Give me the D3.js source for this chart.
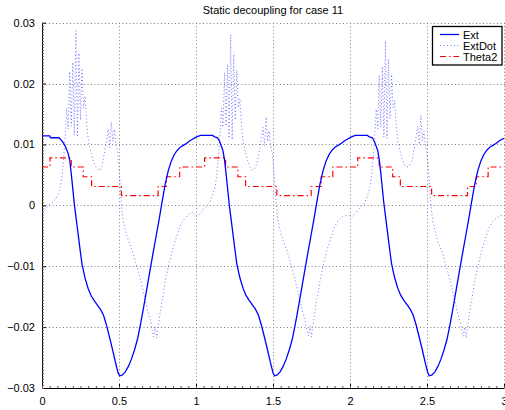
<!DOCTYPE html>
<html><head><meta charset="utf-8">
<script src="https://cdn.jsdelivr.net/npm/d3@7"></script>
<style>
html,body{margin:0;padding:0;background:#fff;}
svg{display:block;font-family:"Liberation Sans",Arial,Helvetica,sans-serif;}
</style></head>
<body><svg id="c" width="505" height="410"></svg>
<script>
const title = "Static decoupling for case 11";
const seriesNames = ["Ext", "ExtDot", "Theta2"];
const xTicks = [0, 0.5, 1, 1.5, 2, 2.5, 3];
const xTickLabels = ["0", "0.5", "1", "1.5", "2", "2.5", "3"];
const yTicks = [-0.03, -0.02, -0.01, 0, 0.01, 0.02, 0.03];
const yTickLabels = ["\u22120.03", "\u22120.02", "\u22120.01", "0", "0.01", "0.02", "0.03"];

// Ext (t, value)
const ext = [
[0,0.0114],[0.05,0.0114],[0.055,0.0111],[0.11,0.0111],[0.13,0.0106],[0.15,0.0098],[0.17,0.0085],[0.18,0.0074],[0.19,0.0052],[0.20,0.0027],[0.21,0.0002],[0.22,-0.0018],[0.23,-0.0038],[0.24,-0.0058],[0.25,-0.0078],[0.26,-0.0097],[0.28,-0.0120],[0.30,-0.0137],[0.32,-0.0149],[0.34,-0.0157],[0.36,-0.0164],[0.38,-0.0171],[0.40,-0.0181],[0.42,-0.0198],[0.44,-0.0218],[0.46,-0.0239],[0.48,-0.0261],[0.495,-0.0276],[0.505,-0.0280],[0.52,-0.0279],[0.54,-0.0274],[0.56,-0.0265],[0.58,-0.0253],[0.60,-0.0238],[0.62,-0.0220],[0.64,-0.0195],[0.66,-0.0167],[0.68,-0.0138],[0.70,-0.0109],[0.72,-0.0080],[0.74,-0.0052],[0.76,-0.0024],[0.78,0.0006],[0.80,0.0035],[0.82,0.0057],[0.84,0.0073],[0.86,0.0084],[0.88,0.0091],[0.90,0.0096],[0.92,0.0099],[0.94,0.0102],[0.96,0.0106],[0.98,0.0109],[1.00,0.0112],
[1.03,0.0115],[1.11,0.0115],[1.115,0.0113],[1.14,0.0111],[1.155,0.0104],[1.175,0.0090],[1.185,0.0075],[1.195,0.0053],[1.205,0.0028],[1.215,0.0003],[1.225,-0.0017],[1.235,-0.0037],[1.245,-0.0057],[1.255,-0.0077],[1.265,-0.0096],[1.285,-0.0119],[1.305,-0.0136],[1.325,-0.0148],[1.345,-0.0156],[1.365,-0.0163],[1.385,-0.0170],[1.405,-0.0180],[1.425,-0.0197],[1.445,-0.0217],[1.465,-0.0238],[1.485,-0.0260],[1.50,-0.0275],[1.51,-0.0280],[1.525,-0.0279],[1.545,-0.0274],[1.565,-0.0265],[1.585,-0.0253],[1.605,-0.0238],[1.625,-0.0220],[1.645,-0.0195],[1.665,-0.0167],[1.685,-0.0138],[1.705,-0.0109],[1.725,-0.0080],[1.745,-0.0052],[1.765,-0.0024],[1.785,0.0006],[1.805,0.0035],[1.825,0.0057],[1.845,0.0073],[1.865,0.0084],[1.885,0.0091],[1.905,0.0096],[1.925,0.0099],[1.945,0.0102],[1.965,0.0106],[1.985,0.0109],[2.005,0.0112],
[2.035,0.0115],[2.115,0.0115],[2.12,0.0113],[2.145,0.0111],[2.16,0.0104],[2.18,0.0090],[2.19,0.0075],[2.20,0.0053],[2.21,0.0028],[2.22,0.0003],[2.23,-0.0017],[2.24,-0.0037],[2.25,-0.0057],[2.26,-0.0077],[2.27,-0.0096],[2.29,-0.0119],[2.31,-0.0136],[2.33,-0.0148],[2.35,-0.0156],[2.37,-0.0163],[2.39,-0.0170],[2.41,-0.0180],[2.43,-0.0197],[2.45,-0.0217],[2.47,-0.0238],[2.49,-0.0260],[2.505,-0.0275],[2.515,-0.0280],[2.53,-0.0279],[2.55,-0.0274],[2.57,-0.0265],[2.59,-0.0253],[2.61,-0.0238],[2.63,-0.0220],[2.65,-0.0195],[2.67,-0.0167],[2.69,-0.0138],[2.71,-0.0109],[2.73,-0.0080],[2.75,-0.0052],[2.77,-0.0024],[2.79,0.0006],[2.81,0.0035],[2.83,0.0057],[2.85,0.0073],[2.87,0.0084],[2.89,0.0091],[2.91,0.0096],[2.93,0.0099],[2.95,0.0102],[2.97,0.0106],[2.99,0.0109],[3.00,0.0110]
];

// ExtDot (t, value)
const extDot = [
[0.000,-0.0011],[0.015,-0.0009],[0.030,-0.0004],[0.052,0.0003],[0.075,0.0006],[0.095,0.0012],[0.110,0.0022],[0.120,0.0032],[0.130,0.0048],[0.140,0.0075],[0.150,0.0110],[0.160,0.0160],[0.170,0.0125],[0.180,0.0220],[0.190,0.0130],[0.200,0.0235],[0.210,0.0115],[0.220,0.0287],[0.230,0.0112],[0.240,0.0250],[0.250,0.0140],[0.260,0.0225],[0.270,0.0160],[0.280,0.0180],[0.290,0.0135],[0.300,0.0110],[0.310,0.0095],[0.320,0.0085],[0.330,0.0075],[0.345,0.0065],[0.360,0.0060],[0.375,0.0057],[0.390,0.0066],[0.400,0.0078],[0.410,0.0093],[0.420,0.0108],[0.430,0.0125],[0.440,0.0095],[0.450,0.0137],[0.460,0.0105],[0.470,0.0125],[0.480,0.0100],[0.490,0.0090],[0.500,0.0062],[0.508,0.0030],[0.516,0.0000],[0.527,-0.0025],[0.545,-0.0045],[0.560,-0.0057],[0.590,-0.0077],[0.624,-0.0107],[0.657,-0.0140],[0.690,-0.0177],[0.705,-0.0190],[0.715,-0.0205],[0.725,-0.0216],[0.735,-0.0200],[0.745,-0.0218],[0.755,-0.0200],[0.765,-0.0180],[0.775,-0.0163],[0.785,-0.0150],[0.800,-0.0125],[0.820,-0.0101],[0.845,-0.0075],[0.873,-0.0052],[0.895,-0.0035],[0.916,-0.0025],[0.950,-0.0015],[0.980,-0.0011],
[1.005,-0.0019],[1.035,-0.0011],[1.060,-0.0003],[1.090,0.0005],[1.110,0.0018],[1.125,0.0032],[1.135,0.0050],[1.145,0.0078],[1.155,0.0112],[1.165,0.0160],[1.175,0.0128],[1.185,0.0218],[1.195,0.0130],[1.205,0.0232],[1.215,0.0110],[1.225,0.0281],[1.235,0.0108],[1.245,0.0248],[1.255,0.0140],[1.265,0.0222],[1.275,0.0160],[1.285,0.0175],[1.295,0.0133],[1.305,0.0108],[1.315,0.0094],[1.325,0.0083],[1.335,0.0074],[1.350,0.0063],[1.365,0.0058],[1.380,0.0060],[1.395,0.0068],[1.405,0.0080],[1.415,0.0095],[1.425,0.0112],[1.435,0.0128],[1.445,0.0098],[1.455,0.0145],[1.465,0.0105],[1.475,0.0122],[1.485,0.0098],[1.495,0.0085],[1.505,0.0060],[1.513,0.0028],[1.521,0.0000],[1.532,-0.0025],[1.550,-0.0045],[1.565,-0.0058],[1.595,-0.0078],[1.629,-0.0108],[1.662,-0.0142],[1.695,-0.0178],[1.710,-0.0192],[1.720,-0.0206],[1.730,-0.0214],[1.740,-0.0198],[1.750,-0.0216],[1.760,-0.0196],[1.770,-0.0178],[1.780,-0.0160],[1.790,-0.0148],[1.805,-0.0124],[1.825,-0.0100],[1.850,-0.0074],[1.878,-0.0051],[1.900,-0.0035],[1.921,-0.0026],[1.955,-0.0018],[1.985,-0.0016],
[2.010,-0.0019],[2.040,-0.0012],[2.065,-0.0004],[2.095,0.0004],[2.115,0.0017],[2.130,0.0031],[2.140,0.0049],[2.150,0.0076],[2.160,0.0110],[2.170,0.0158],[2.180,0.0126],[2.190,0.0214],[2.200,0.0128],[2.210,0.0228],[2.220,0.0112],[2.230,0.0270],[2.240,0.0110],[2.250,0.0240],[2.260,0.0142],[2.270,0.0215],[2.280,0.0160],[2.290,0.0172],[2.300,0.0132],[2.310,0.0108],[2.320,0.0094],[2.330,0.0084],[2.340,0.0076],[2.355,0.0066],[2.370,0.0063],[2.385,0.0065],[2.400,0.0072],[2.410,0.0083],[2.420,0.0097],[2.430,0.0114],[2.440,0.0130],[2.450,0.0100],[2.460,0.0148],[2.470,0.0106],[2.480,0.0122],[2.490,0.0098],[2.500,0.0086],[2.510,0.0060],[2.518,0.0028],[2.526,0.0000],[2.537,-0.0025],[2.555,-0.0045],[2.570,-0.0058],[2.600,-0.0078],[2.634,-0.0108],[2.667,-0.0142],[2.700,-0.0178],[2.715,-0.0192],[2.725,-0.0207],[2.735,-0.0215],[2.745,-0.0200],[2.755,-0.0218],[2.765,-0.0197],[2.775,-0.0180],[2.785,-0.0162],[2.795,-0.0149],[2.810,-0.0125],[2.830,-0.0101],[2.855,-0.0075],[2.883,-0.0052],[2.905,-0.0036],[2.926,-0.0027],[2.960,-0.0019],[2.990,-0.0016],[3.000,-0.0016]
];

// Theta2 steps (t where the level starts, value)
const theta2 = [
[0,0.0063],[0.052,0.0078],[0.19,0.0063],[0.268,0.0047],[0.322,0.0031],[0.516,0.0016],[0.754,0.0031],[0.808,0.0047],[0.894,0.0063],
[1.056,0.0078],[1.192,0.0063],[1.272,0.0047],[1.322,0.0031],[1.525,0.0016],[1.748,0.0031],[1.813,0.0047],[1.888,0.0063],
[2.05,0.0078],[2.19,0.0063],[2.277,0.0047],[2.327,0.0031],[2.53,0.0016],[2.763,0.0031],[2.82,0.0047],[2.897,0.0063],[3.0,0.0063]
];

const svg = d3.select("#c");
const L = 42, R = 504, T = 22.7, B = 388;
const x = d3.scaleLinear().domain([0, 3]).range([L, R]);
const y = d3.scaleLinear().domain([-0.03, 0.03]).range([B, T]);

// grid
const grid = svg.append("g").attr("stroke", "#000").attr("stroke-width", 1).attr("stroke-dasharray", "1,2.5").attr("opacity", 0.5);
xTicks.slice(1).forEach(t => grid.append("line").attr("x1", Math.round(x(t)) + 0.5).attr("x2", Math.round(x(t)) + 0.5).attr("y1", T).attr("y2", B));
yTicks.slice(1).forEach(t => grid.append("line").attr("y1", Math.round(y(t)) + 0.5).attr("y2", Math.round(y(t)) + 0.5).attr("x1", L).attr("x2", 505));

// axes
const xAxis = d3.axisBottom(x).tickValues(xTicks).tickFormat((d, i) => xTickLabels[i]).tickSizeInner(-4).tickSizeOuter(0).tickPadding(9);
const yAxis = d3.axisLeft(y).tickValues(yTicks).tickFormat((d, i) => yTickLabels[i]).tickSizeInner(-4).tickSizeOuter(0).tickPadding(7);
const gx = svg.append("g").attr("transform", `translate(0,${B})`).call(xAxis);
const gy = svg.append("g").attr("transform", `translate(${L},0)`).call(yAxis);
[gx, gy].forEach(g => {
  g.selectAll("text").attr("font-size", 11).attr("fill", "#000").attr("font-family", "Liberation Sans, Arial, sans-serif");
  g.select(".domain").attr("stroke", "#000");
  g.selectAll(".tick line").attr("stroke", "#000");
});
// minor ticks
const xMinor = d3.axisBottom(x).ticks(60).tickFormat("").tickSizeInner(-2).tickSizeOuter(0);
const yMinor = d3.axisLeft(y).ticks(120).tickFormat("").tickSizeInner(-2).tickSizeOuter(0);
svg.append("g").attr("transform", `translate(0,${B})`).call(xMinor).call(g => g.select(".domain").remove()).selectAll("line").attr("stroke", "#555");
svg.append("g").attr("transform", `translate(${L},0)`).call(yMinor).call(g => g.select(".domain").remove()).selectAll("line").attr("stroke", "#555");

// clip
svg.append("clipPath").attr("id", "clp").append("rect").attr("x", L).attr("y", T - 2).attr("width", 505 - L).attr("height", B - T + 2);
const plot = svg.append("g").attr("clip-path", "url(#clp)");

const line = d3.line().x(d => x(d[0])).y(d => y(d[1]));
const stepLine = d3.line().x(d => x(d[0])).y(d => y(d[1])).curve(d3.curveStepAfter);

plot.append("path").datum(extDot).attr("d", line).attr("fill", "none").attr("stroke", "#3a3aff").attr("stroke-width", 1).attr("stroke-dasharray", "1,2.5").attr("opacity", 0.7);
plot.append("path").datum(theta2).attr("d", stepLine).attr("fill", "none").attr("stroke", "#ff0000").attr("stroke-width", 1.2).attr("stroke-dasharray", "6,3,1.5,3");
plot.append("path").datum(ext).attr("d", line).attr("fill", "none").attr("stroke", "#0000ff").attr("stroke-width", 1.3);

// title
svg.append("text").attr("x", (L + R) / 2).attr("y", 14).attr("text-anchor", "middle").attr("font-size", 11).text(title);

// legend
const lg = svg.append("g");
lg.append("rect").attr("x", 432.5).attr("y", 26.5).attr("width", 69.5).attr("height", 38.5).attr("fill", "#fff").attr("stroke", "#000").attr("stroke-width", 1.3);
const styles = [
  {stroke: "#0000ff", dash: null, w: 1.3, op: 1},
  {stroke: "#3a3aff", dash: "1,2.5", w: 1, op: 0.7},
  {stroke: "#ff0000", dash: "6,3,1.5,3", w: 1.2, op: 1}
];
seriesNames.forEach((n, i) => {
  const yy = 34.5 + i * 11;
  lg.append("line").attr("x1", 440).attr("x2", 459).attr("y1", yy).attr("y2", yy).attr("stroke", styles[i].stroke).attr("stroke-width", styles[i].w).attr("stroke-dasharray", styles[i].dash).attr("opacity", styles[i].op);
  lg.append("text").attr("x", 463).attr("y", yy + 4).attr("font-size", 11).text(n);
});
</script></body></html>
